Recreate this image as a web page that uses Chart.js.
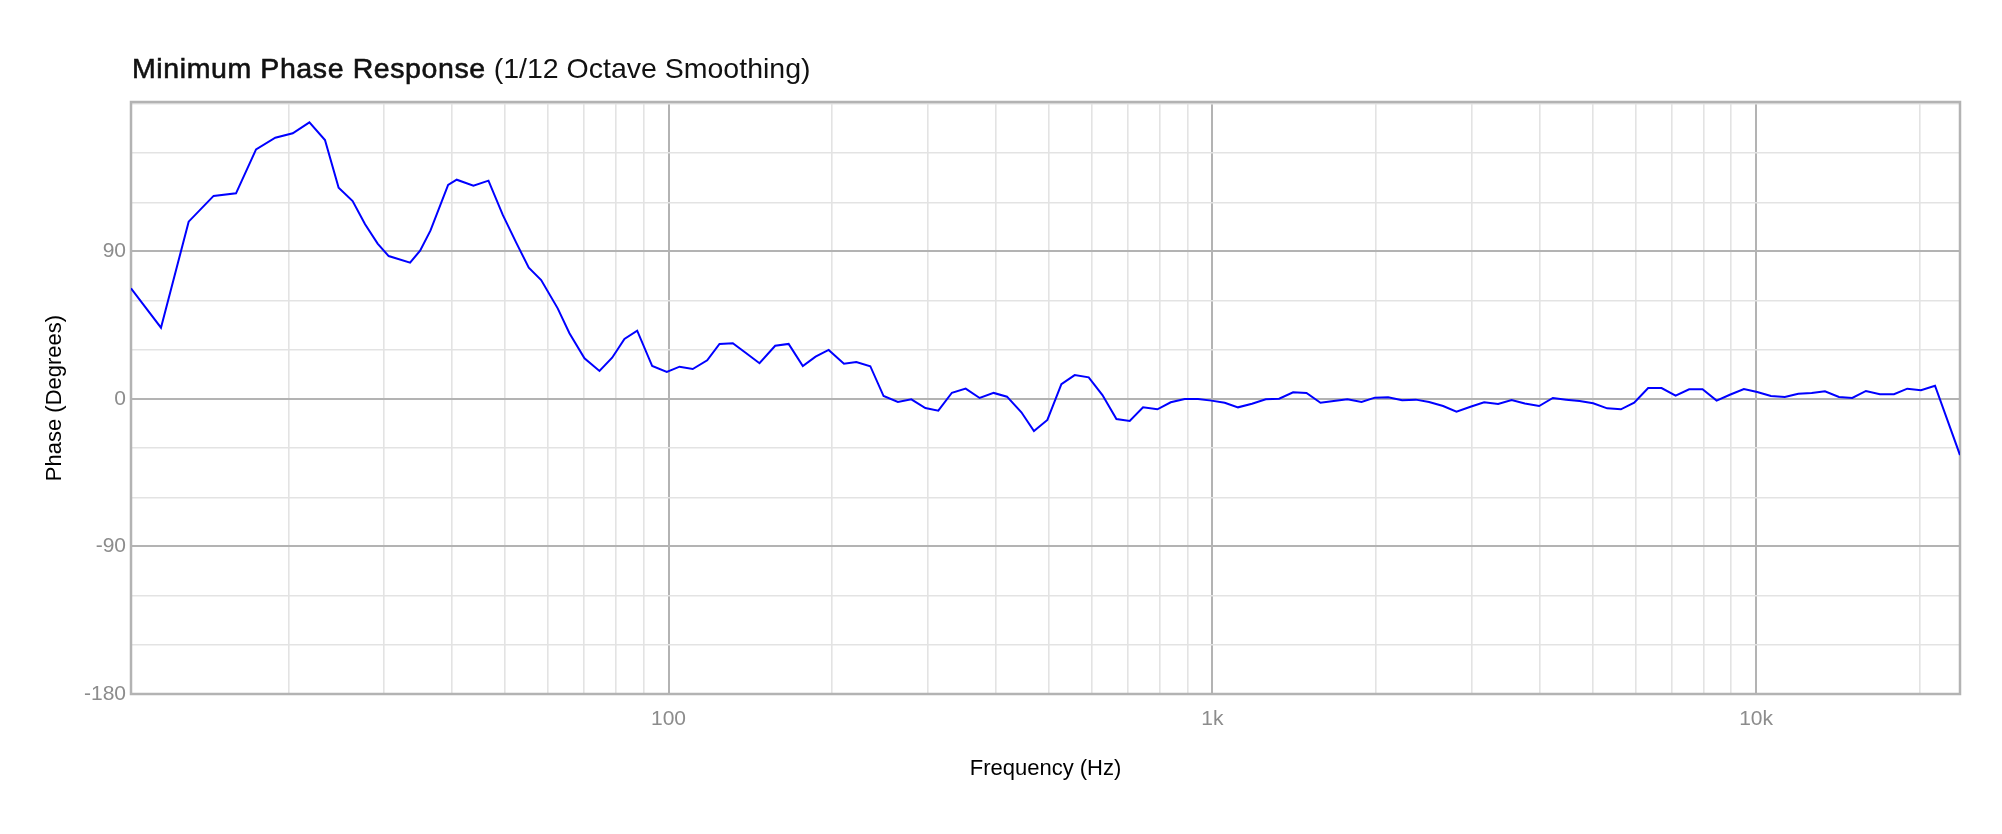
<!DOCTYPE html>
<html>
<head>
<meta charset="utf-8">
<script src="https://cdn.jsdelivr.net/npm/chart.js@4.4.1/dist/chart.umd.min.js"></script>
<style>
  html, body { margin: 0; padding: 0; background: #ffffff; }
  #wrap { width: 2002px; height: 834px; }
  canvas { display: block; }
</style>
</head>
<body>
<div id="wrap"><canvas id="chart" width="2002" height="834"></canvas></div>
<script>
// ---- Data ----
const FREQ_HZ = [
  10.27, 11.66, 13.11, 14.57, 16.02, 17.44, 18.92, 20.37, 21.86, 23.35,
  24.74, 26.25, 27.67, 29.18, 30.58, 33.48, 34.93, 36.49, 39.33, 40.79,
  43.78, 46.66, 49.57, 52.47, 55.34, 58.32, 62.55, 65.74, 70.06, 74.65,
  78.77, 82.98, 87.58, 93.33, 99.28, 104.8, 110.8, 117.8, 124.1, 131.3,
  138.6, 147.0, 157.1, 166.3, 176.6, 186.4, 197.0, 210.2, 221.5, 235.0,
  248.6, 264.1, 279.6, 296.7, 313.4, 332.0, 351.9, 373.4, 396.2, 419.2,
  445.6, 469.9, 497.4, 527.8, 558.4, 592.5, 628.0, 666.3, 704.9, 745.8,
  792.6, 838.6, 889.8, 941.3, 996.2, 1054, 1115, 1183, 1254, 1327,
  1408, 1490, 1581, 1672, 1772, 1881, 1990, 2105, 2234, 2367,
  2504, 2657, 2812, 2984, 3161, 3354, 3551, 3756, 3990, 4229,
  4474, 4735, 5016, 5322, 5641, 5968, 6331, 6701, 7111, 7531,
  7971, 8460, 8948, 9496, 10047, 10647, 11295, 11953, 12652, 13384,
  14201, 15025, 15922, 16891, 17929, 18967, 20100, 21330, 23710
];
const PHASE_DEG = [
  67.5, 43.5, 108.2, 123.9, 125.5, 152.3, 159.4, 162.1, 168.8, 158.0,
  128.9, 120.8, 106.6, 94.8, 87.2, 83.2, 90.5, 102.7, 130.6, 133.8,
  130.1, 133.2, 112.3, 95.4, 80.1, 72.6, 55.3, 40.1, 24.8, 17.1,
  25.2, 36.6, 41.7, 20.1, 16.5, 19.7, 18.3, 23.6, 33.6, 34.0,
  28.2, 21.8, 32.5, 33.6, 20.1, 25.8, 29.9, 21.5, 22.6, 20.0,
  1.8, -1.8, -0.2, -5.5, -7.1, 3.8, 6.3, 0.6, 3.7, 1.4,
  -8.1, -19.5, -12.8, 9.0, 14.6, 13.2, 2.4, -12.2, -13.4, -5.1,
  -6.3, -2.0, 0.0, 0.0, -1.0, -2.3, -5.1, -2.9, -0.2, 0.2,
  4.1, 3.7, -2.3, -1.2, -0.2, -1.8, 0.8, 1.0, -0.8, -0.4,
  -1.8, -4.3, -7.7, -4.7, -2.0, -3.1, -0.6, -2.7, -4.3, 0.6,
  -0.4, -1.3, -2.6, -5.7, -6.3, -2.3, 6.7, 6.7, 2.0, 5.9,
  5.9, -1.0, 2.6, 6.1, 4.3, 1.8, 1.2, 3.2, 3.7, 4.7,
  1.2, 0.6, 4.9, 2.9, 2.9, 6.3, 5.3, 8.1, -34.2
];

// Axis ticks / labels
const X_TICKS = [20, 30, 40, 50, 60, 70, 80, 90,
                 100, 200, 300, 400, 500, 600, 700, 800, 900,
                 1000, 2000, 3000, 4000, 5000, 6000, 7000, 8000, 9000,
                 10000, 20000];
const X_MAJOR = [100, 1000, 10000];
const X_LABELS = { 100: '100', 1000: '1k', 10000: '10k' };
const Y_TICKS = [-180, -150, -120, -90, -60, -30, 0, 30, 60, 90, 120, 150, 180];
const Y_MAJOR = [-180, -90, 0, 90];
const Y_LABELS = { '-180': '-180', '-90': '-90', '0': '0', '90': '90' };

const TITLE_MAIN = 'Minimum Phase Response';
const TITLE_SUB = ' (1/12 Octave Smoothing)';
const X_TITLE = 'Frequency (Hz)';
const Y_TITLE = 'Phase (Degrees)';

// ---- Styling ----
const FONT = '"Liberation Sans", Helvetica, Arial, sans-serif';
const MAJOR_GRID = '#b3b3b3';
const MINOR_GRID = '#e3e3e3';
const TICK_COLOR = '#8c8c8c';

const points = FREQ_HZ.map((f, i) => ({ x: f, y: PHASE_DEG[i] }));

const panelBorder = {
  id: 'panelBorder',
  beforeDatasetsDraw(chart) {
    const { ctx, chartArea: a } = chart;
    ctx.save();
    ctx.strokeStyle = MAJOR_GRID;
    ctx.lineWidth = 2.5;
    ctx.strokeRect(a.left, a.top, a.right - a.left, a.bottom - a.top);
    ctx.restore();
  }
};

// Title drawn in two weights (main part medium-weight, as in the reference)
const twoPartTitle = {
  id: 'twoPartTitle',
  afterDraw(chart, args, opts) {
    const { ctx, chartArea } = chart;
    ctx.save();
    ctx.fillStyle = opts.color;
    ctx.strokeStyle = opts.color;
    ctx.textAlign = 'left';
    ctx.textBaseline = 'alphabetic';
    let x = chartArea.left + 1;
    ctx.font = 'normal ' + opts.size + 'px ' + FONT;
    if ('letterSpacing' in ctx) ctx.letterSpacing = opts.mainSpacing + 'px';
    ctx.lineWidth = opts.mainStroke;
    ctx.fillText(opts.main, x, opts.baseline);
    ctx.strokeText(opts.main, x, opts.baseline);
    x += ctx.measureText(opts.main).width;
    if ('letterSpacing' in ctx) ctx.letterSpacing = '0px';
    ctx.fillText(opts.sub, x, opts.baseline);
    ctx.restore();
  }
};

new Chart(document.getElementById('chart'), {
  type: 'line',
  data: {
    datasets: [{
      label: 'Phase',
      data: points,
      borderColor: '#0000ff',
      borderWidth: 2,
      pointRadius: 0,
      tension: 0,
      fill: false
    }]
  },
  options: {
    responsive: false,
    animation: false,
    devicePixelRatio: 1,
    layout: { padding: { left: 0, right: 42, top: 102, bottom: 0 } },
    plugins: {
      legend: { display: false },
      tooltip: { enabled: false },
      title: { display: false },
      twoPartTitle: {
        main: TITLE_MAIN,
        sub: TITLE_SUB,
        color: '#111111',
        size: 28.5,
        baseline: 78,
        mainSpacing: 0.6,
        mainStroke: 0.6
      }
    },
    scales: {
      x: {
        type: 'logarithmic',
        position: 'bottom',
        min: FREQ_HZ[0],
        max: FREQ_HZ[FREQ_HZ.length - 1],
        afterBuildTicks: (scale) => { scale.ticks = X_TICKS.map(v => ({ value: v })); },
        afterFit: (scale) => { scale.height = 140; },
        border: { display: false },
        grid: {
          drawTicks: false,
          color: (ctx) => (ctx.tick && X_MAJOR.includes(ctx.tick.value)) ? MAJOR_GRID : MINOR_GRID,
          lineWidth: (ctx) => (ctx.tick && X_MAJOR.includes(ctx.tick.value)) ? 2 : 1.6
        },
        ticks: {
          autoSkip: false,
          maxRotation: 0,
          padding: 12.4,
          color: TICK_COLOR,
          font: { family: FONT, size: 21 },
          callback: (v) => X_LABELS[v] || ''
        },
        title: {
          display: true,
          text: X_TITLE,
          color: '#000000',
          font: { family: FONT, size: 22 },
          padding: { top: 0, bottom: 51.8 }
        }
      },
      y: {
        type: 'linear',
        position: 'left',
        min: -180,
        max: 181.2,
        afterBuildTicks: (scale) => { scale.ticks = Y_TICKS.map(v => ({ value: v })); },
        afterFit: (scale) => { scale.width = 131; },
        border: { display: false },
        grid: {
          drawTicks: false,
          color: (ctx) => (ctx.tick && Y_MAJOR.includes(ctx.tick.value)) ? MAJOR_GRID : MINOR_GRID,
          lineWidth: (ctx) => (ctx.tick && Y_MAJOR.includes(ctx.tick.value)) ? 2 : 1.6
        },
        ticks: {
          autoSkip: false,
          padding: 5,
          color: TICK_COLOR,
          font: { family: FONT, size: 21 },
          callback: (v) => Y_LABELS[String(v)] || ''
        },
        title: {
          display: true,
          text: Y_TITLE,
          color: '#000000',
          font: { family: FONT, size: 22 },
          padding: { top: 42, bottom: 0 }
        }
      }
    }
  },
  plugins: [panelBorder, twoPartTitle]
});
</script>
</body>
</html>
